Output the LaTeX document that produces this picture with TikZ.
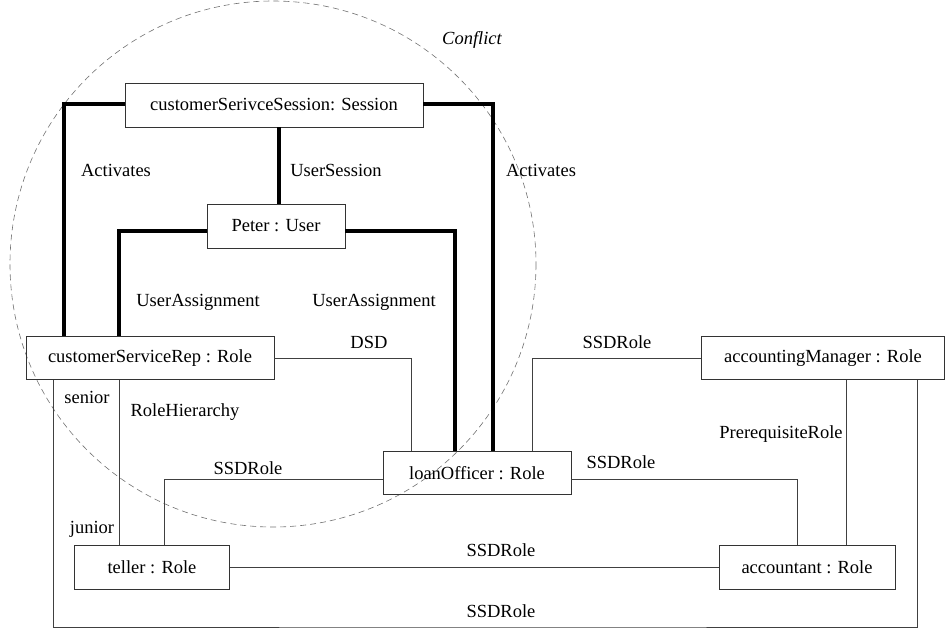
\documentclass[tikz,border=0pt]{standalone}
\usepackage{fontspec}
\setmainfont{Liberation Serif}
\usetikzlibrary{calc}

\tikzset{
  rolebox/.style={draw=black!80, line width=0.9pt, minimum height=44, inner sep=0pt},
  assign/.style={line width=3.2pt},
  ssd/.style={draw=black!75, line width=0.9pt},
  lbl/.style={inner sep=0pt, font=\fontsize{18.5}{20}\selectfont},
  conflictring/.style={draw=black!55, line width=0.6pt, dash pattern=on 6pt off 4pt}
}

\begin{document}
\begin{tikzpicture}[x=1pt,y=1pt,yscale=-1,xscale=1]
\useasboundingbox (0,0) rectangle (948,635);
\fontsize{18.5}{20}\selectfont
%Conflict region
\draw[conflictring] (273,264) circle (263);
\node[lbl] (conflict) at (472,40) {\itshape Conflict};
%Objects
\node[rolebox, minimum width=298] (session) at (274,105) {customerSerivceSession: Session};
\node[rolebox, minimum width=138] (peter) at (276,226) {Peter : User};
\node[rolebox, minimum width=248, minimum height=43] (csr) at (150,358) {customerServiceRep : Role};
\node[rolebox, minimum width=188, minimum height=43] (loan) at (477,473) {loanOfficer : Role};
\node[rolebox, minimum width=243, minimum height=43] (am) at (823,358) {accountingManager : Role};
\node[rolebox, minimum width=176] (acct) at (807,567) {accountant : Role};
\node[rolebox, minimum width=155] (teller) at (152,567) {teller : Role};
\coordinate (ssdlow) at (500,627);
%Activates / UserSession / UserAssignment
\draw[assign] ($(session.west)+(0,-1)$) -| ([xshift=-86]csr.north);
\draw[assign] ($(session.east)+(0,-1)$) -| ([xshift=16]loan.north);
\draw[assign] ([xshift=3]peter.north) -- ([xshift=3]peter.north |- session.south);
\draw[assign] ($(peter.west)+(0,5)$) -| ([xshift=-31]csr.north);
\draw[assign] ($(peter.east)+(0,5)$) -| ([xshift=-22]loan.north);
%Constraints and hierarchy
\draw[ssd] (csr.east) -| ([xshift=-66]loan.north);
\draw[ssd] ([xshift=55]loan.north) |- (am.west);
\draw[ssd] ($(loan.east)+(0,6)$) -| ([xshift=-10]acct.north);
\draw[ssd] ([xshift=12]teller.north) |- ($(loan.west)+(0,6)$);
\draw[ssd] (teller.east) -- (acct.west);
\draw[ssd] ([xshift=23]am.south) -- ([xshift=23]am.south |- acct.north);
\draw[ssd] ([xshift=-31]csr.south) -- ([xshift=-31]csr.south |- teller.north);
\draw[ssd] ([xshift=-97]csr.south) |- (ssdlow) -| ([xshift=94]am.south);
%Labels
\node[lbl] (actleft) at (116,170) {Activates};
\node[lbl] (usess) at (336,170) {UserSession};
\node[lbl] (actright) at (541,170) {Activates};
\node[lbl] (ualeft) at (198,302) {UserAssignment};
\node[lbl] (uaright) at (374,302) {UserAssignment};
\node[lbl] (dsd) at (369,342) {DSD};
\node[lbl] (senior) at (87,397) {senior};
\node[lbl] (rolehier) at (185,412) {RoleHierarchy};
\node[lbl] (junior) at (92,529) {junior};
\node[lbl] (ssdtl) at (248,468) {SSDRole};
\node[lbl] (ssdla) at (617,342) {SSDRole};
\node[lbl] (ssdlc) at (621,462) {SSDRole};
\node[lbl] (prereq) at (781,434) {PrerequisiteRole};
\node[lbl] (ssdtc) at (501,550) {SSDRole};
\node[lbl] (ssdbot) at (501,611) {SSDRole};
\end{tikzpicture}
\end{document}
